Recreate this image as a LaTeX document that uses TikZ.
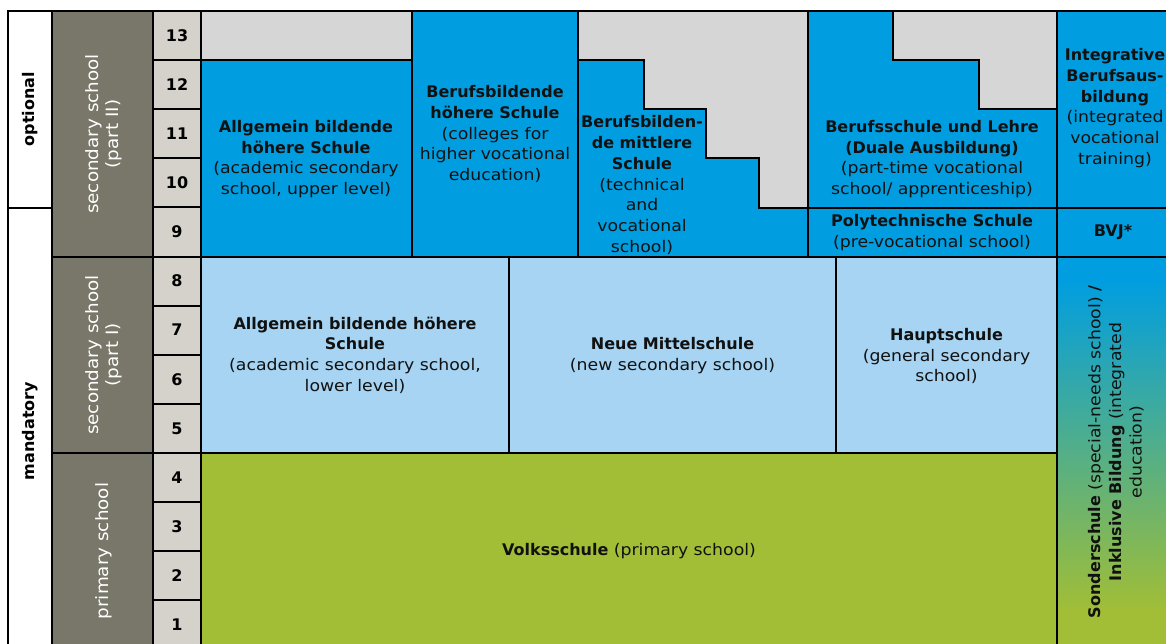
\documentclass[tikz,border=0pt]{standalone}
\usepackage{fontspec}
\setmainfont{DejaVu Sans}[UprightFeatures={FakeStretch=1.08}]
\definecolor{dblue}{HTML}{009EE0}
\definecolor{lblue}{HTML}{A6D4F2}
\definecolor{vgreen}{HTML}{A1BE36}
\definecolor{colgray}{HTML}{78776A}
\definecolor{numgray}{HTML}{D4D2CA}
\definecolor{hatchgray}{HTML}{D6D6D6}
\definecolor{ink}{HTML}{111111}
\begin{document}
\begin{tikzpicture}[x=1pt,y=-1pt,
  rule/.style={line width=2.4pt, line cap=rect, draw=black},
  thinrule/.style={line width=2pt, draw=black},
  txt/.style={align=center, inner sep=0pt, text=ink, font={\fontsize{16}{20.7}\selectfont}},
  wtxt/.style={align=center, inner sep=0pt, text=white, rotate=90, font={\fontsize{17}{20.5}\selectfont}},
  side/.style={align=center, inner sep=0pt, text=black, rotate=90, font={\fontsize{16}{20.7}\selectfont\bfseries}},
  num/.style={inner sep=0pt, text=black, font={\fontsize{16}{18}\selectfont\bfseries}},
  hatch/.style={fill=hatchgray, draw=black, line width=2.4pt}
]
\useasboundingbox (0,0) rectangle (1166,644);
\fill[white] (0,0) rectangle (1166,644);
\begin{scope}
\clip (0,0) rectangle (1166,644);
% fills
\fill[dblue] (201,11) rectangle (1180,257);
\fill[lblue] (201,257) rectangle (1057,453);
\fill[vgreen] (201,453) rectangle (1057,660);
\fill[dblue] (1057,257) rectangle (1180,281);
\shade[top color=dblue, bottom color=vgreen] (1057,280) rectangle (1180,611);
\fill[vgreen] (1057,610) rectangle (1180,660);
\fill[colgray] (52,11) rectangle (153,660);
\fill[numgray] (153,11) rectangle (201,660);
% hatched (not offered) areas
\draw[hatch] (201,11) rectangle (412,60);
\draw[hatch] (578,11) -- (808,11) -- (808,208) -- (759,208) -- (759,158) -- (706,158)
  -- (706,109) -- (644,109) -- (644,60) -- (578,60) -- cycle;
\draw[hatch] (893,11) -- (1057,11) -- (1057,109) -- (979,109) -- (979,60) -- (893,60) -- cycle;
% grid lines
\draw[rule] (8,11) rectangle (1180,660);
\draw[rule] (52,11) -- (52,660);
\draw[rule] (153,11) -- (153,660);
\draw[rule] (201,11) -- (201,660);
\draw[rule] (8,208) -- (52,208);
\draw[rule] (52,257) -- (153,257);
\draw[rule] (52,453) -- (153,453);
\foreach \k in {1,...,12} \draw[thinrule] (153,{11+49.1*\k}) -- (201,{11+49.1*\k});
\draw[rule] (412,11) -- (412,257);
\draw[rule] (578,11) -- (578,257);
\draw[rule] (808,11) -- (808,257);
\draw[rule] (1057,11) -- (1057,660);
\draw[rule] (808,208) -- (1180,208);
\draw[rule] (201,257) -- (1180,257);
\draw[rule] (201,453) -- (1057,453);
\draw[rule] (509,257) -- (509,453);
\draw[rule] (836,257) -- (836,453);
% side labels
\node[side] (optional) at (30,109) {optional};
\node[side] (mandatory) at (30,431) {mandatory};
\node[wtxt] (sec2) at (104,134) {secondary school\\(part II)};
\node[wtxt] (sec1) at (104,355) {secondary school\\(part I)};
\node[wtxt] (prim) at (104,551) {primary school};
\foreach \n in {1,...,13} \node[num] (n\n) at (177,{11+49.1*(13-\n)+24.55}) {\n};
% school types
\node[txt] (ahsu) at (306,159) {\textbf{Allgemein bildende}\\\textbf{höhere Schule}\\(academic secondary\\school, upper level)};
\node[txt] (bhs) at (495,134) {\textbf{Berufsbildende}\\\textbf{höhere Schule}\\(colleges for\\higher vocational\\education)};
\node[txt] (bms) at (642,185) {\textbf{Berufsbilden-}\\\textbf{de mittlere}\\\textbf{Schule}\\(technical\\and\\vocational\\school)};
\node[txt] (duale) at (932,159) {\textbf{Berufsschule und Lehre}\\\textbf{(Duale Ausbildung)}\\(part-time vocational\\school/ apprenticeship)};
\node[txt] (poly) at (932,232.5) {\textbf{Polytechnische Schule}\\(pre-vocational school)};
\node[txt] (iba) at (1115,108) {\textbf{Integrative}\\\textbf{Berufsaus-}\\\textbf{bildung}\\(integrated\\vocational\\training)};
\node[txt] (bvj) at (1113,232.5) {\textbf{BVJ*}};
\node[txt] (ahsl) at (355,355) {\textbf{Allgemein bildende höhere}\\\textbf{Schule}\\(academic secondary school,\\lower level)};
\node[txt] (nms) at (672.5,355.5) {\textbf{Neue Mittelschule}\\(new secondary school)};
\node[txt] (hs) at (946.5,356) {\textbf{Hauptschule}\\(general secondary\\school)};
\node[txt] (vs) at (629,551) {\textbf{Volksschule} (primary school)};
\node[txt, rotate=90] (sonder) at (1116,452) {\textbf{Sonderschule} (special-needs school) \textbf{/}\\\textbf{Inklusive Bildung} (integrated\\education)};
\end{scope}
\end{tikzpicture}
\end{document}
